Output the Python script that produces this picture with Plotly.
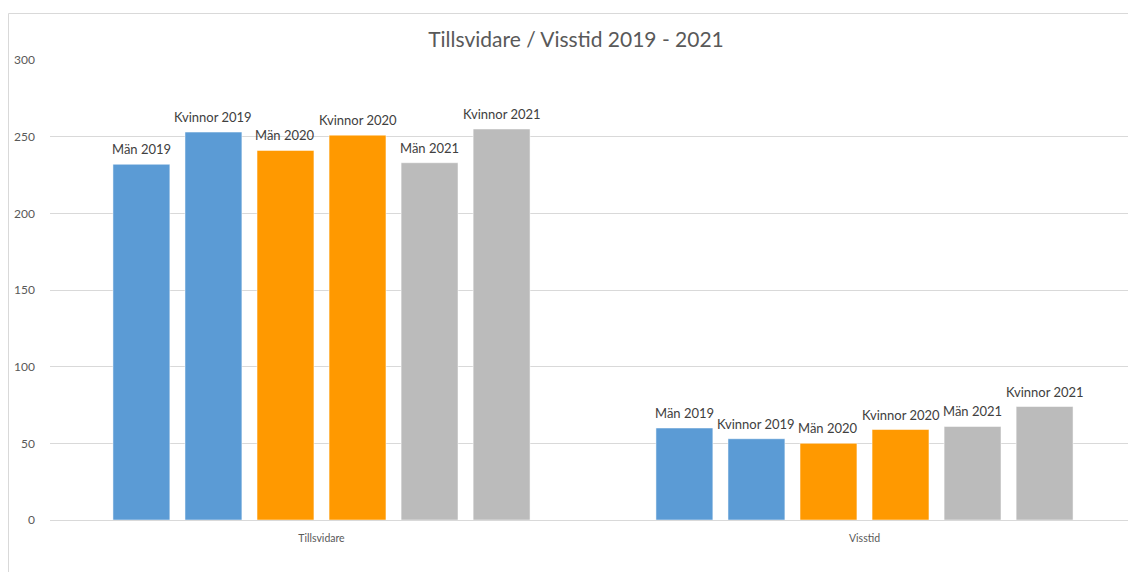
import plotly.graph_objects as go

categories = ["Tillsvidare", "Visstid"]
series_names = ["Män 2019", "Kvinnor 2019", "Män 2020", "Kvinnor 2020", "Män 2021", "Kvinnor 2021"]
man_2019 = [232, 60]
kvinnor_2019 = [253, 53]
man_2020 = [241, 50]
kvinnor_2020 = [251, 59]
man_2021 = [233, 61]
kvinnor_2021 = [255, 74]
series_values = [man_2019, kvinnor_2019, man_2020, kvinnor_2020, man_2021, kvinnor_2021]
colors = ["#5B9BD5", "#5B9BD5", "#FF9900", "#FF9900", "#BBBBBB", "#BBBBBB"]
y_ticks = [0, 50, 100, 150, 200, 250, 300]

FONT = "Lato"
BARGAP = 0.204
n = len(series_names)
slot = (1 - BARGAP) / n

fig = go.Figure()
for i, (name, vals, col) in enumerate(zip(series_names, series_values, colors)):
    fig.add_trace(go.Bar(
        x=categories, y=vals, name=name,
        marker=dict(color=col, line=dict(color="white", width=0.5)),
    ))
    for j, v in enumerate(vals):
        fig.add_annotation(
            x=j + (i - (n - 1) / 2) * slot, y=v, xref="x", yref="y",
            text=name, showarrow=False, yanchor="bottom", xanchor="center",
            yshift=5, font=dict(family=FONT, size=13, color="#404040"),
        )

# page has an 8px body margin; the figure is sized to fill the rest
W, H = 1128, 564
ml, mr, mt, mb = 42, 0, 52, 52
pw, ph = W - ml - mr, H - mt - mb

def px_to_paper_x(px):
    return (px - ml) / pw

def px_to_paper_y(py):
    return (H - mb - py) / ph

fig.update_layout(
    width=W, height=H,
    margin=dict(l=ml, r=mr, t=mt, b=mb, pad=0),
    paper_bgcolor="white", plot_bgcolor="white",
    showlegend=False,
    barmode="group", bargap=BARGAP, bargroupgap=0.21,
    title=dict(text="Tillsvidare / Visstid 2019 - 2021", x=568 / W, xref="container",
               xanchor="center", y=1 - 32 / H, yref="container", yanchor="middle",
               font=dict(family=FONT, size=21, color="#595959")),
    font=dict(family=FONT, color="#595959"),
    xaxis=dict(showgrid=False, showline=True, linecolor="#D9D9D9", linewidth=1,
               tickfont=dict(family=FONT, size=10.5, color="#595959"), ticks="",
               ticklabelstandoff=8),
    yaxis=dict(range=[0, 300], tickvals=y_ticks, showgrid=True, gridcolor="#D9D9D9",
               gridwidth=1, zeroline=False, showline=False, ticks="",
               tickfont=dict(family=FONT, size=12, color="#595959"),
               ticklabelstandoff=14),
)

fig.add_shape(type="line", xref="paper", yref="paper",
              x0=px_to_paper_x(0.5), x1=px_to_paper_x(0.5),
              y0=px_to_paper_y(5.5), y1=px_to_paper_y(H + 5),
              line=dict(color="#D9D9D9", width=1))
fig.add_shape(type="line", xref="paper", yref="paper",
              x0=px_to_paper_x(0.5), x1=px_to_paper_x(W + 5),
              y0=px_to_paper_y(5.5), y1=px_to_paper_y(5.5),
              line=dict(color="#D9D9D9", width=1))

fig.write_html("out.html")
